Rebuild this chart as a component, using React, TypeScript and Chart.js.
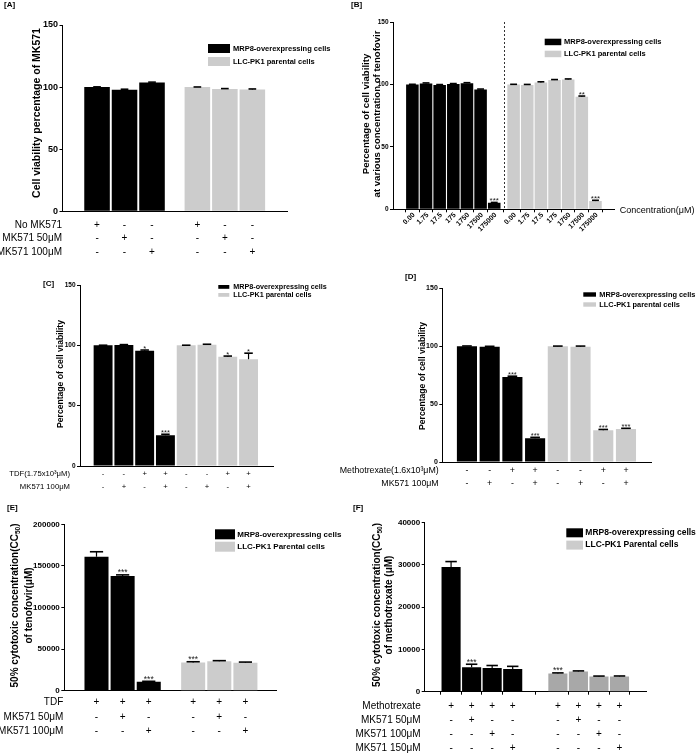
import React, { useEffect, useRef } from 'react';
import { Chart, registerables } from 'chart.js';

Chart.register(...registerables);

const W = 696;
const H = 754;
const Y_AXIS_BOX = 40;
const FONT = '"Liberation Sans", Arial, Helvetica, sans-serif';
const BLACK = '#000000';
const GREY = '#cccccc';
const GREY_DARK = '#a8a8a8';

const MRP8_LABEL = 'MRP8-overexpressing cells';
const LLC_LABEL = 'LLC-PK1 parental cells';
const LLC_LABEL_CAP = 'LLC-PK1 Parental cells';

// ---------- Panel A ----------
const A_ROWS = ['No MK571', 'MK571 50μM', 'MK571 100μM'];
const A_SIGNS = [
  ['+', '-', '-', '+', '-', '-'],
  ['-', '+', '-', '-', '+', '-'],
  ['-', '-', '+', '-', '-', '+'],
];
const A_MRP8 = [100, 97.8, 103.8];
const A_MRP8_ERR = [0.2, 0.5, 0.2];
const A_MRP8_STARS = ['', '', ''];
const A_LLC = [100, 98.4, 98.1];
const A_LLC_ERR = [0.1, 0.4, 0.4];
const A_LLC_STARS = ['', '', ''];
const A_Y_MAX = 150;
const A_Y_STEP = 50;

// ---------- Panel B ----------
const B_CONCENTRATIONS = ['0.00', '1.75', '17.5', '175', '1750', '17500', '175000'];
const B_MRP8 = [100, 100.8, 99.5, 100.4, 101, 96, 5.2];
const B_MRP8_ERR = [0.1, 0.4, 0.4, 0.3, 0.4, 0.3, 0.3];
const B_MRP8_STARS = ['', '', '', '', '', '', '***'];
const B_LLC = [100, 99.5, 101.5, 103.5, 104, 90.2, 6.6];
const B_LLC_ERR = [0.1, 0.5, 0.6, 0.4, 0.4, 0.5, 0.6];
const B_LLC_STARS = ['', '', '', '', '', '**', '***'];
const B_Y_MAX = 150;
const B_Y_STEP = 50;

// ---------- Panel C ----------
const C_ROWS = ['TDF(1.75x10³μM)', 'MK571 100μM'];
const C_SIGNS = [
  ['-', '-', '+', '+', '-', '-', '+', '+'],
  ['-', '+', '-', '+', '-', '+', '-', '+'],
];
const C_MRP8 = [100, 100.3, 95.6, 25.5];
const C_MRP8_ERR = [0.1, 0.3, 0.5, 0.8];
const C_MRP8_STARS = ['', '', '*', '***'];
const C_LLC = [100, 100.4, 90.5, 88.5];
const C_LLC_ERR = [0.1, 0.5, 0.6, 5];
const C_LLC_STARS = ['', '', '*', '*'];
const C_Y_MAX = 150;
const C_Y_STEP = 50;

// ---------- Panel D ----------
const D_ROWS = ['Methotrexate(1.6x10³μM)', 'MK571 100μM'];
const D_SIGNS = [
  ['-', '-', '+', '+', '-', '-', '+', '+'],
  ['-', '+', '-', '+', '-', '+', '-', '+'],
];
const D_MRP8 = [100, 99.6, 73.5, 20.5];
const D_MRP8_ERR = [0.2, 0.3, 0.6, 0.8];
const D_MRP8_STARS = ['', '', '***', '***'];
const D_LLC = [100, 99.6, 27.5, 28.5];
const D_LLC_ERR = [0.1, 0.5, 0.6, 0.6];
const D_LLC_STARS = ['', '', '***', '***'];
const D_Y_MAX = 150;
const D_Y_STEP = 50;

// ---------- Panel E ----------
const E_ROWS = ['TDF', 'MK571 50μM', 'MK571 100μM'];
const E_SIGNS = [
  ['+', '+', '+', '+', '+', '+'],
  ['-', '+', '-', '-', '+', '-'],
  ['-', '-', '+', '-', '-', '+'],
];
const E_MRP8 = [161000, 138000, 10800];
const E_MRP8_ERR = [6000, 1200, 500];
const E_MRP8_STARS = ['', '***', '***'];
const E_LLC = [34000, 35500, 33700];
const E_LLC_ERR = [800, 600, 700];
const E_LLC_STARS = ['***', '', ''];
const E_Y_MAX = 200000;
const E_Y_STEP = 50000;

// ---------- Panel F ----------
const F_ROWS = ['Methotrexate', 'MK571 50μM', 'MK571 100μM', 'MK571 150μM'];
const F_SIGNS = [
  ['+', '+', '+', '+', '+', '+', '+', '+'],
  ['-', '+', '-', '-', '-', '+', '-', '-'],
  ['-', '-', '+', '-', '-', '-', '+', '-'],
  ['-', '-', '-', '+', '-', '-', '-', '+'],
];
const F_MRP8 = [29500, 5800, 5600, 5400];
const F_MRP8_ERR = [1300, 700, 600, 600];
const F_MRP8_STARS = ['', '***', '', ''];
const F_LLC = [4300, 4800, 3600, 3600];
const F_LLC_ERR = [150, 120, 100, 120];
const F_LLC_STARS = ['***', '', '', ''];
const F_Y_MAX = 40000;
const F_Y_STEP = 10000;

// ---------- types ----------
type Seg = [string, boolean];
interface Series {
  label: string;
  values: number[];
  errors: number[];
  stars: string[];
  color: string;
  legendColor: string;
}
interface Layout {
  area: [number, number, number, number];
  xMin: number;
  xMax: number;
  gap: number;
  barPct: number;
  tickFont: number;
  tickMarks: boolean;
  tag: [number, number];
  title: { xs: number[]; y: number; size: number };
  legend: { x: number; y: number; w: number; h: number; step: number; tx: number; size: number };
  table?: { right: number; ys: number[]; size: number };
  starSize: number;
  cap: number;
  cats?: { size: number; axisLabel: string; ax: number; ay: number; axSize: number };
}
interface Spec {
  tag: string;
  title: Seg[][];
  series: Series[];
  yMax: number;
  yStep: number;
  rows?: string[];
  signs?: string[][];
  xCats?: string[];
  layout: Layout;
}

const SPEC_A: Spec = {
  tag: '[A]',
  title: [[['Cell viability percentage of MK571', false]]],
  series: [
    { label: MRP8_LABEL, values: A_MRP8, errors: A_MRP8_ERR, stars: A_MRP8_STARS, color: BLACK, legendColor: BLACK },
    { label: LLC_LABEL, values: A_LLC, errors: A_LLC_ERR, stars: A_LLC_STARS, color: GREY, legendColor: GREY },
  ],
  yMax: A_Y_MAX,
  yStep: A_Y_STEP,
  rows: A_ROWS,
  signs: A_SIGNS,
  layout: {
    area: [62.5, 25, 287, 211.3],
    xMin: -0.576, xMax: 6.23, gap: 0.65, barPct: 0.93,
    tickFont: 9, tickMarks: false,
    tag: [4, 4.5],
    title: { xs: [37], y: 113, size: 10.5 },
    legend: { x: 208, y: 44, w: 22, h: 9, step: 13, tx: 233, size: 7.5 },
    table: { right: 62, ys: [225.3, 238.7, 252], size: 10 },
    starSize: 8, cap: 0.3,
  },
};

const SPEC_B: Spec = {
  tag: '[B]',
  title: [[['Percentage of cell viability', false]], [['at various concentration of tenofovir', false]]],
  series: [
    { label: MRP8_LABEL, values: B_MRP8, errors: B_MRP8_ERR, stars: B_MRP8_STARS, color: BLACK, legendColor: BLACK },
    { label: LLC_LABEL, values: B_LLC, errors: B_LLC_ERR, stars: B_LLC_STARS, color: GREY, legendColor: GREY },
  ],
  yMax: B_Y_MAX,
  yStep: B_Y_STEP,
  xCats: B_CONCENTRATIONS,
  layout: {
    area: [393, 22, 614.7, 209.3],
    xMin: -0.84, xMax: 14.25, gap: 0.42, barPct: 0.92,
    tickFont: 6.5, tickMarks: true,
    tag: [351, 4.5],
    title: { xs: [366, 377], y: 114, size: 9.6 },
    legend: { x: 544.7, y: 38.7, w: 16.6, h: 6.5, step: 12, tx: 564, size: 7.5 },
    starSize: 8, cap: 0.55,
    cats: { size: 7, axisLabel: 'Concentration(μM)', ax: 619.7, ay: 211, axSize: 9 },
  },
};

const SPEC_C: Spec = {
  tag: '[C]',
  title: [[['Percentage of cell viability', false]]],
  series: [
    { label: MRP8_LABEL, values: C_MRP8, errors: C_MRP8_ERR, stars: C_MRP8_STARS, color: BLACK, legendColor: BLACK },
    { label: LLC_LABEL, values: C_LLC, errors: C_LLC_ERR, stars: C_LLC_STARS, color: GREY, legendColor: GREY },
  ],
  yMax: C_Y_MAX,
  yStep: C_Y_STEP,
  rows: C_ROWS,
  signs: C_SIGNS,
  layout: {
    area: [80, 285, 273.3, 466],
    xMin: -0.53, xMax: 7.61, gap: 0, barPct: 0.91,
    tickFont: 6.5, tickMarks: false,
    tag: [43, 284],
    title: { xs: [61], y: 374, size: 8.6 },
    legend: { x: 218.3, y: 285, w: 11, h: 3.8, step: 8, tx: 233.3, size: 7.2 },
    table: { right: 70, ys: [474, 487.3], size: 7.7 },
    starSize: 7.5, cap: 0.45,
  },
};

const SPEC_D: Spec = {
  tag: '[D]',
  title: [[['Percentage of cell viability', false]]],
  series: [
    { label: MRP8_LABEL, values: D_MRP8, errors: D_MRP8_ERR, stars: D_MRP8_STARS, color: BLACK, legendColor: BLACK },
    { label: LLC_LABEL, values: D_LLC, errors: D_LLC_ERR, stars: D_LLC_STARS, color: GREY, legendColor: GREY },
  ],
  yMax: D_Y_MAX,
  yStep: D_Y_STEP,
  rows: D_ROWS,
  signs: D_SIGNS,
  layout: {
    area: [442.3, 288.3, 651.3, 462],
    xMin: -0.51, xMax: 7.54, gap: 0, barPct: 0.885,
    tickFont: 7, tickMarks: false,
    tag: [405, 277],
    title: { xs: [423], y: 376, size: 8.6 },
    legend: { x: 583.3, y: 292.3, w: 12.7, h: 4.4, step: 10, tx: 599.3, size: 7.4 },
    table: { right: 438.7, ys: [471, 483.3], size: 8.8 },
    starSize: 7.5, cap: 0.48,
  },
};

const SPEC_E: Spec = {
  tag: '[E]',
  title: [
    [['50% cytotoxic concentration(CC', false], ['50', true], [')', false]],
    [['of tenofovir(μM)', false]],
  ],
  series: [
    { label: MRP8_LABEL, values: E_MRP8, errors: E_MRP8_ERR, stars: E_MRP8_STARS, color: BLACK, legendColor: BLACK },
    { label: LLC_LABEL_CAP, values: E_LLC, errors: E_LLC_ERR, stars: E_LLC_STARS, color: GREY, legendColor: GREY },
  ],
  yMax: E_Y_MAX,
  yStep: E_Y_STEP,
  rows: E_ROWS,
  signs: E_SIGNS,
  layout: {
    area: [64.3, 524.3, 276.7, 690.7],
    xMin: -0.555, xMax: 6.22, gap: 0.7, barPct: 0.92,
    tickFont: 8, tickMarks: false,
    tag: [7, 508],
    title: { xs: [15, 29.5], y: 605.5, size: 10 },
    legend: { x: 215, y: 529.3, w: 20, h: 10, step: 12.4, tx: 237.3, size: 8 },
    table: { right: 63.3, ys: [702.5, 716.8, 731], size: 10 },
    starSize: 8.5, cap: 0.55,
  },
};

const SPEC_F: Spec = {
  tag: '[F]',
  title: [
    [['50% cytotoxic concentration(CC', false], ['50', true], [')', false]],
    [['of methotrexate (μM)', false]],
  ],
  series: [
    { label: MRP8_LABEL, values: F_MRP8, errors: F_MRP8_ERR, stars: F_MRP8_STARS, color: BLACK, legendColor: BLACK },
    { label: LLC_LABEL_CAP, values: F_LLC, errors: F_LLC_ERR, stars: F_LLC_STARS, color: GREY_DARK, legendColor: GREY },
  ],
  yMax: F_Y_MAX,
  yStep: F_Y_STEP,
  rows: F_ROWS,
  signs: F_SIGNS,
  layout: {
    area: [424.7, 522.7, 646.3, 691.7],
    xMin: -0.61, xMax: 8.83, gap: 1.2, barPct: 0.93,
    tickFont: 8, tickMarks: true,
    tag: [353, 508],
    title: { xs: [377, 389], y: 605, size: 10 },
    legend: { x: 566.3, y: 528.3, w: 16.7, h: 9, step: 12.3, tx: 585.3, size: 8.5 },
    table: { right: 420.7, ys: [706.5, 720.3, 734, 747.8], size: 10 },
    starSize: 8.5, cap: 0.6,
  },
};

const SPECS = [SPEC_A, SPEC_B, SPEC_C, SPEC_D, SPEC_E, SPEC_F];

function fnt(size: number, bold: boolean) {
  return `${bold ? 'bold ' : ''}${size}px ${FONT}`;
}

function barPositions(spec: Spec): number[][] {
  const out: number[][] = [];
  let start = 0;
  spec.series.forEach((s) => {
    out.push(s.values.map((_, i) => start + i));
    start += s.values.length + spec.layout.gap;
  });
  return out;
}

function makeDecor(spec: Spec, pos: number[][]) {
  const L = spec.layout;
  return {
    id: 'decor',
    afterDraw(chart: any) {
      const ctx = chart.ctx as CanvasRenderingContext2D;
      const xs = chart.scales.x;
      const ys = chart.scales.y;
      const area = chart.chartArea;
      ctx.save();
      ctx.fillStyle = '#000';
      ctx.strokeStyle = '#000';

      // divider between groups (panel B)
      if (spec.xCats) {
        const g0 = pos[0][pos[0].length - 1];
        const g1 = pos[1][0];
        const dx = Math.round(xs.getPixelForValue((g0 + g1) / 2)) + 0.5;
        ctx.save();
        ctx.setLineDash([2, 2]);
        ctx.lineWidth = 1;
        ctx.strokeStyle = '#333';
        ctx.beginPath();
        ctx.moveTo(dx, area.top);
        ctx.lineTo(dx, area.bottom);
        ctx.stroke();
        ctx.restore();
      }

      // error bars and significance stars
      spec.series.forEach((s, g) => {
        const meta = chart.getDatasetMeta(g);
        s.values.forEach((v, i) => {
          const bar: any = meta.data[i];
          if (!bar) return;
          const x = bar.x;
          const w = bar.width;
          const yTop = ys.getPixelForValue(v);
          const yErr = ys.getPixelForValue(v + s.errors[i]);
          ctx.lineWidth = 1.2;
          ctx.beginPath();
          ctx.moveTo(x, yTop);
          ctx.lineTo(x, yErr);
          ctx.stroke();
          ctx.lineWidth = 1.6;
          const half = (w * L.cap) / 2;
          ctx.beginPath();
          ctx.moveTo(x - half, yErr);
          ctx.lineTo(x + half, yErr);
          ctx.stroke();
          if (s.stars[i]) {
            ctx.font = fnt(L.starSize, false);
            ctx.fillStyle = '#222';
            ctx.textAlign = 'center';
            ctx.textBaseline = 'alphabetic';
            ctx.fillText(s.stars[i], x, yErr + 0.5);
            ctx.fillStyle = '#000';
          }
        });
      });

      // panel tag
      ctx.font = fnt(8, true);
      ctx.textAlign = 'left';
      ctx.textBaseline = 'middle';
      ctx.fillText(spec.tag, L.tag[0], L.tag[1]);

      // y title
      spec.title.forEach((line, j) => {
        ctx.save();
        ctx.translate(L.title.xs[j], L.title.y);
        ctx.rotate(-Math.PI / 2);
        ctx.textBaseline = 'middle';
        ctx.textAlign = 'left';
        const widths = line.map(([t, sub]) => {
          ctx.font = fnt(sub ? L.title.size * 0.65 : L.title.size, true);
          return ctx.measureText(t).width;
        });
        const total = widths.reduce((a, b) => a + b, 0);
        let cx = -total / 2;
        line.forEach(([t, sub], k) => {
          ctx.font = fnt(sub ? L.title.size * 0.65 : L.title.size, true);
          ctx.fillText(t, cx, sub ? L.title.size * 0.3 : 0);
          cx += widths[k];
        });
        ctx.restore();
      });

      // legend
      spec.series.forEach((s, g) => {
        const by = L.legend.y + g * L.legend.step;
        ctx.fillStyle = s.legendColor;
        ctx.fillRect(L.legend.x, by, L.legend.w, L.legend.h);
        ctx.fillStyle = '#000';
        ctx.font = fnt(L.legend.size, true);
        ctx.textAlign = 'left';
        ctx.textBaseline = 'middle';
        ctx.fillText(s.label, L.legend.tx, by + L.legend.h / 2);
      });

      // condition table
      if (spec.rows && spec.signs && L.table) {
        const flat = pos.flat();
        ctx.font = fnt(L.table.size, false);
        ctx.textBaseline = 'middle';
        spec.rows.forEach((label, r) => {
          const y = L.table!.ys[r];
          ctx.textAlign = 'right';
          ctx.fillText(label, L.table!.right, y);
          ctx.textAlign = 'center';
          spec.signs![r].forEach((sg, i) => {
            ctx.fillText(sg, xs.getPixelForValue(flat[i]), y);
          });
        });
      }

      // rotated category labels (panel B)
      if (spec.xCats && L.cats) {
        ctx.font = fnt(L.cats.size, true);
        pos.forEach((grp) => {
          grp.forEach((p, i) => {
            const x = xs.getPixelForValue(p);
            ctx.save();
            ctx.translate(x + 1.5, area.bottom + 4.5);
            ctx.rotate(-Math.PI / 4);
            ctx.textAlign = 'right';
            ctx.textBaseline = 'middle';
            ctx.fillText(spec.xCats![i], 0, 0);
            ctx.restore();
          });
        });
        ctx.font = fnt(L.cats.axSize, false);
        ctx.textAlign = 'left';
        ctx.textBaseline = 'middle';
        ctx.fillText(L.cats.axisLabel, L.cats.ax, L.cats.ay);
      }

      ctx.restore();
    },
  };
}

function buildConfig(spec: Spec): any {
  const L = spec.layout;
  const pos = barPositions(spec);
  const flat = pos.flat();
  return {
    type: 'bar',
    data: {
      datasets: spec.series.map((s, g) => ({
        label: s.label,
        data: s.values.map((v, i) => ({ x: pos[g][i], y: v })),
        backgroundColor: s.color,
        borderWidth: 0,
        grouped: false,
        barPercentage: L.barPct,
        categoryPercentage: 1,
      })),
    },
    options: {
      responsive: false,
      animation: false,
      devicePixelRatio: 1,
      events: [],
      layout: {
        padding: {
          left: L.area[0] - Y_AXIS_BOX,
          top: L.area[1],
          right: W - L.area[2],
          bottom: H - L.area[3],
        },
      },
      plugins: {
        legend: { display: false },
        tooltip: { enabled: false },
        title: { display: false },
      },
      scales: {
        x: {
          type: 'linear',
          min: L.xMin,
          max: L.xMax,
          afterBuildTicks: (s: any) => {
            s.ticks = flat.map((v) => ({ value: v }));
          },
          afterFit: (s: any) => {
            s.height = 0;
          },
          ticks: { display: false },
          grid: {
            display: true,
            drawOnChartArea: false,
            drawTicks: L.tickMarks,
            tickLength: 3,
            color: '#000',
            lineWidth: 1,
          },
          border: { display: true, color: '#000', width: 1 },
        },
        y: {
          type: 'linear',
          min: 0,
          max: spec.yMax,
          afterFit: (s: any) => {
            s.width = Y_AXIS_BOX;
          },
          ticks: {
            stepSize: spec.yStep,
            callback: (v: any) => String(v),
            font: { family: FONT, size: L.tickFont, weight: 'bold' },
            color: '#000',
            padding: 1.5,
          },
          grid: {
            display: true,
            drawOnChartArea: false,
            drawTicks: true,
            tickLength: 3,
            color: '#000',
            lineWidth: 1,
          },
          border: { display: true, color: '#000', width: 1 },
        },
      },
    },
    plugins: [makeDecor(spec, pos)],
  };
}

function PanelChart({ spec }: { spec: Spec }) {
  const ref = useRef<HTMLCanvasElement>(null);
  useEffect(() => {
    if (!ref.current) return;
    const chart = new Chart(ref.current, buildConfig(spec));
    return () => chart.destroy();
  }, [spec]);
  return (
    <canvas
      ref={ref}
      width={W}
      height={H}
      style={{ position: 'absolute', left: 0, top: 0, width: W, height: H, pointerEvents: 'none' }}
    />
  );
}

export default function App() {
  Chart.defaults.font.family = FONT;
  return (
    <div
      style={{
        position: 'absolute',
        left: 0,
        top: 0,
        width: W,
        height: H,
        background: '#fff',
        overflow: 'hidden',
      }}
    >
      {SPECS.map((s) => (
        <PanelChart key={s.tag} spec={s} />
      ))}
    </div>
  );
}
